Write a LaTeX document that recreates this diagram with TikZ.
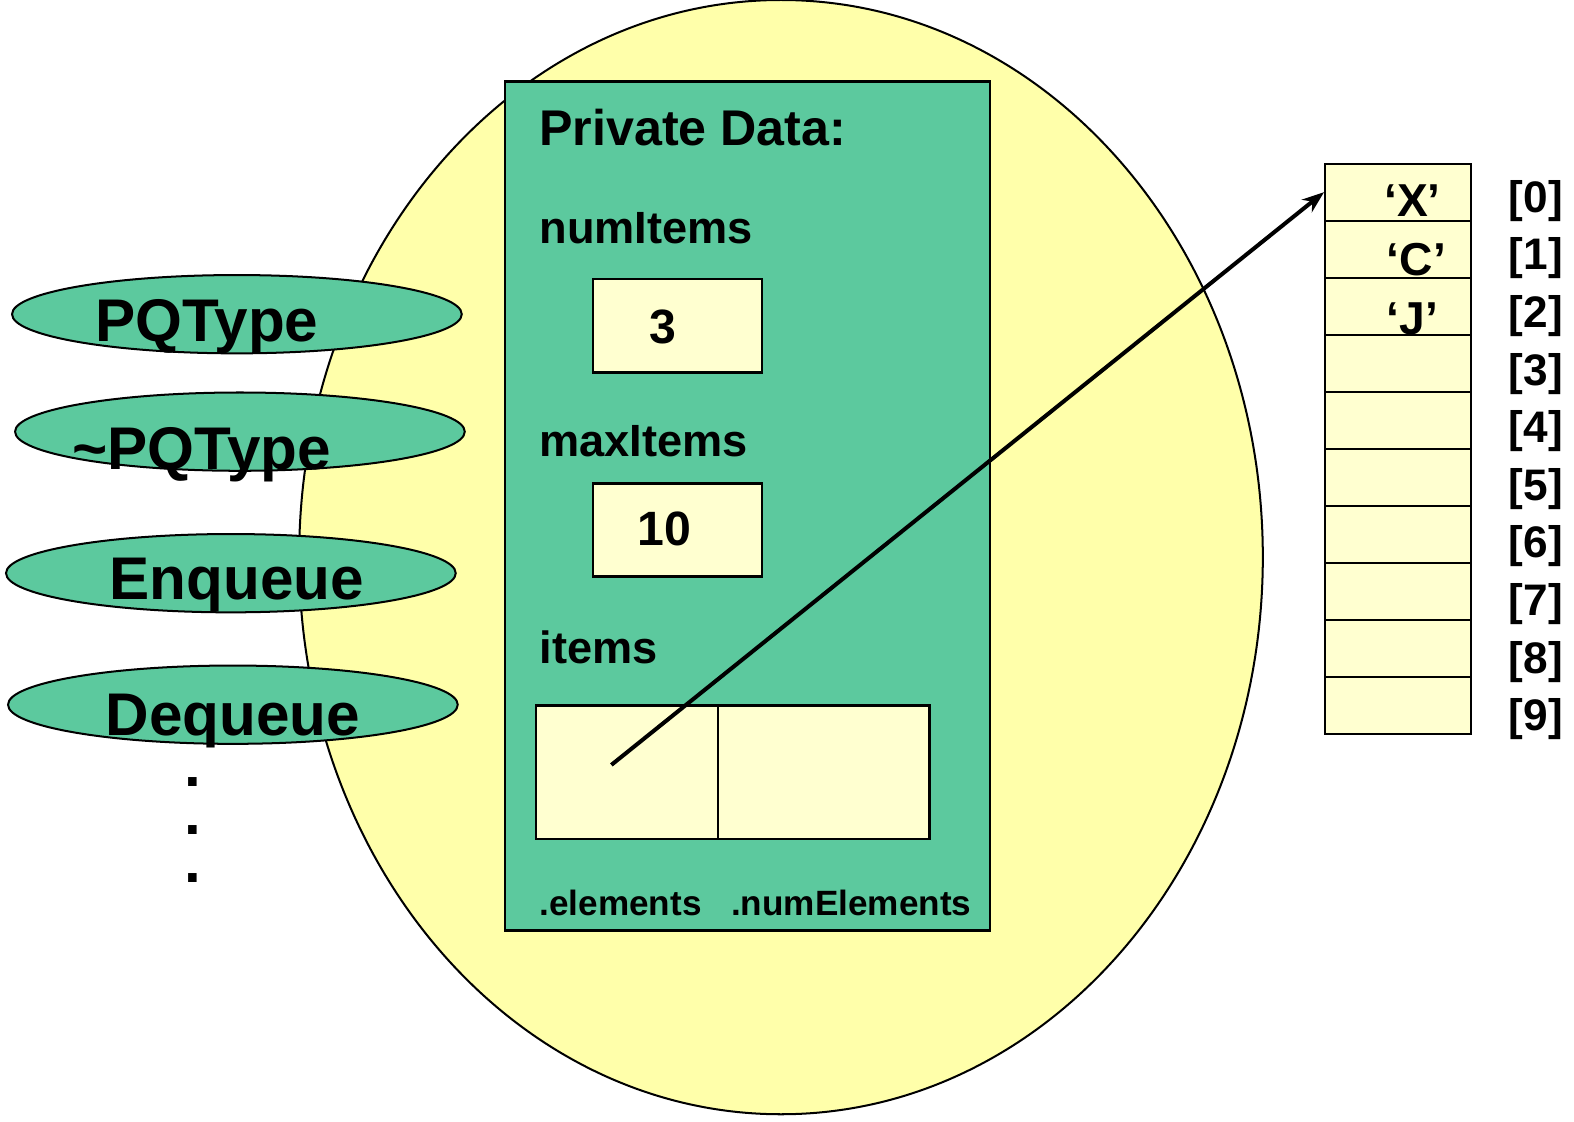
\documentclass[tikz,border=0pt]{standalone}
\usepackage{fontspec}
\setmainfont{Liberation Sans}
\usetikzlibrary{shapes.geometric,arrows.meta}
\definecolor{bigyellow}{RGB}{255,255,170}
\definecolor{boxgreen}{RGB}{92,201,158}
\definecolor{cellyellow}{RGB}{255,255,208}
\begin{document}
\begin{tikzpicture}[x=0.5pt,y=-0.5pt,
  opell/.style={ellipse,draw=black,line width=1pt,fill=boxgreen,inner sep=0pt,minimum width=224pt,minimum height=39pt},
  optext/.style={inner sep=0pt,anchor=base,font=\fontsize{30}{36}\selectfont\bfseries},
  lbl/.style={inner sep=0pt,anchor=base west,font=\fontsize{22.5}{27}\selectfont\bfseries},
  valbox/.style={rectangle,draw=black,line width=1.2pt,fill=cellyellow,inner sep=0pt,minimum width=84pt,minimum height=46.5pt},
  valtext/.style={inner sep=0pt,font=\fontsize{24}{29}\selectfont\bfseries},
  itembox/.style={rectangle,draw=black,line width=1.2pt,fill=cellyellow,inner sep=0pt,minimum height=66.5pt},
  cell/.style={rectangle,draw=black,line width=1pt,fill=cellyellow,inner sep=0pt,minimum width=72.5pt,minimum height=28.4pt},
  celltext/.style={inner sep=0pt,font=\fontsize{23}{28}\selectfont\bfseries},
  idx/.style={inner sep=0pt,font=\fontsize{22}{27}\selectfont\bfseries},
  fieldtext/.style={inner sep=0pt,anchor=base west,font=\fontsize{17.5}{21}\selectfont\bfseries},
  dotnode/.style={inner sep=0pt,anchor=base,text height=5pt,text depth=0pt,font=\fontsize{30}{36}\selectfont\bfseries}
]
\useasboundingbox (0,0) rectangle (1568,1117);
% big object ellipse
\node[ellipse,draw=black,line width=1pt,fill=bigyellow,inner sep=0pt,minimum width=480pt,minimum height=555pt] (obj) at (778,555) {};
% operations
\node[opell] (e1) at (236,313) {};
\node[opell] (e2) at (239,430) {};
\node[opell] (e3) at (230,571) {};
\node[opell] (e4) at (232,702) {};
\node[optext] (t1) at (206,340) {PQType};
\node[optext] (t2) at (201,468) {\textasciitilde PQType};
\node[optext] (t3) at (236,597) {Enqueue};
\node[optext] (t4) at (232,733) {Dequeue};
\node[dotnode] (d1) at (192,783) {.};
\node[dotnode] (d2) at (192,831) {.};
\node[dotnode] (d3) at (192,879) {.};
% private data box
\node[rectangle,draw=black,line width=1.2pt,fill=boxgreen,inner sep=0pt,minimum width=241.5pt,minimum height=423pt] (priv) at (744.5,504) {};
\node[inner sep=0pt,anchor=base west,font=\fontsize{25}{30}\selectfont\bfseries] (ptitle) at (537,145) {Private Data:};
\node[lbl] (lnum) at (537,243) {numItems};
\node[valbox] (vnum) at (675,324.5) {};
\node[valtext] (vnumt) at (660,326) {3};
\node[lbl] (lmax) at (537,455) {maxItems};
\node[valbox] (vmax) at (675,528) {};
\node[valtext] (vmaxt) at (662,527) {10};
\node[lbl] (litems) at (537,661) {items};
\node[itembox,minimum width=90.5pt] (elem) at (624.5,769.5) {};
\node[itembox,minimum width=105.5pt] (nume) at (820.5,769.5) {};
\node[fieldtext] (felem) at (537,912) {.elements};
\node[fieldtext] (fnum) at (728,912) {.numElements};
% array
\foreach \i in {0,...,9} {
  \node[cell] (cell\i) at (1392.5,{191.4+56.8*\i}) {};
}
\foreach \i in {0,...,9} {
  \node[idx] (ix\i) at (1530,{200+57.4*\i}) {[\i]};
}
\node[celltext] (cx) at (1407,200) {‘X’};
\node[celltext] (cc) at (1411,259) {‘C’};
\node[celltext] (cj) at (1407,318) {‘J’};
% pointer
\coordinate (pstart) at (609,762);
\draw[line width=2pt,-{Stealth[length=11pt,width=8pt,inset=3.5pt]}] (pstart) -- (cell0.west);
\end{tikzpicture}
\end{document}
